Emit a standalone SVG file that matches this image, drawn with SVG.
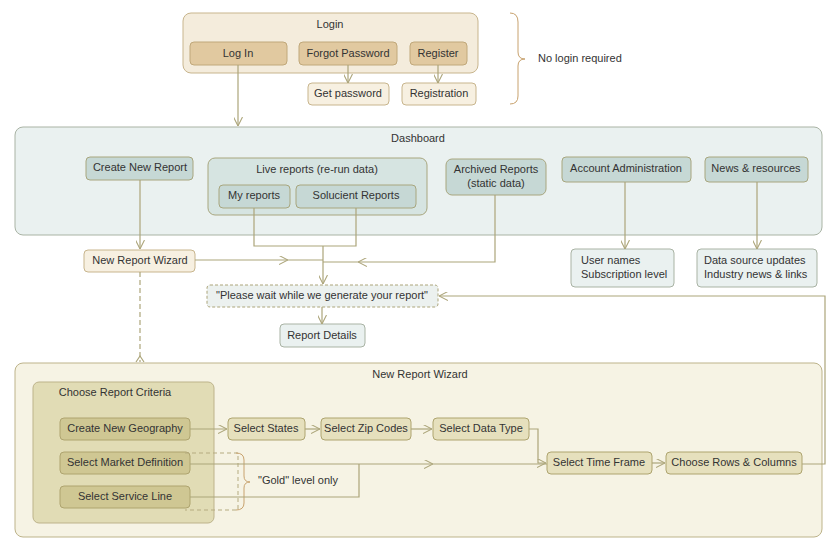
<svg xmlns="http://www.w3.org/2000/svg" width="837" height="552" viewBox="0 0 837 552">
<style>
text{font-family:"Liberation Sans",Arial,sans-serif;font-size:11px;fill:#333;text-anchor:middle;dominant-baseline:middle}
.lg{fill:#f4ecdc;stroke:#c8b58d}
.ln{fill:#e1c9a0;stroke:#c0a87a}
.lw{fill:#f7f0e1;stroke:#c8b58d}
.db{fill:#eaf1f0;stroke:#a9b3a4}
.dn{fill:#c6d8d5;stroke:#a8a67e}
.dg{fill:#d6e4e1;stroke:#a8a67e}
.wz{fill:#f6f3e4;stroke:#bdb38a}
.cr{fill:#e1dcb5;stroke:#bdb38a}
.cn{fill:#cfc793;stroke:#aea46f}
.wn{fill:#e6e0bd;stroke:#aea46f}
.c{fill:none;stroke:#aca57a;stroke-width:1.2}
</style>
<defs>
<marker id="a" viewBox="0 0 10 10" refX="10" refY="5" markerWidth="9" markerHeight="9" orient="auto" markerUnits="userSpaceOnUse"><path d="M0,0L10,5L0,10" fill="none" stroke="#aca57a" stroke-width="1.2"/></marker>
</defs>
<g id="login"><rect class="lg" x="183" y="13" width="295" height="60" rx="8"/><text x="330" y="25">Login</text></g>
<g id="login-in"><rect class="ln" x="190" y="42" width="97" height="23" rx="4"/><text x="238" y="54">Log In</text></g>
<g id="forgot"><rect class="ln" x="299" y="42" width="98" height="23" rx="4"/><text x="348" y="54">Forgot Password</text></g>
<g id="register"><rect class="ln" x="410" y="42" width="57" height="23" rx="4"/><text x="438" y="54">Register</text></g>
<g id="getpw"><rect class="lw" x="308" y="83" width="81" height="22" rx="4"/><text x="348" y="94">Get password</text></g>
<g id="registration"><rect class="lw" x="402" y="83" width="74" height="22" rx="4"/><text x="439" y="94">Registration</text></g>
<g id="nologin"><path d="M510,13Q518,13 518,22L518,52Q518,59 525,59Q518,59 518,66L518,96Q518,104 510,104" fill="none" stroke="#c8a26e"/><text x="538" y="59" style="text-anchor:start">No login required</text></g>

<g id="dashboard"><rect class="db" x="15" y="127" width="807" height="108" rx="8"/><text x="418" y="139">Dashboard</text></g>
<g id="create"><rect class="dn" x="86" y="157" width="107" height="23" rx="4"/><text x="140" y="168">Create New Report</text></g>
<g id="live"><rect class="dg" x="208" y="158" width="219" height="57" rx="7"/><text x="317" y="170">Live reports (re-run data)</text></g>
<g id="myreports"><rect class="dn" x="219" y="185" width="71" height="23" rx="4"/><text x="254" y="196">My reports</text></g>
<g id="solucient"><rect class="dn" x="296" y="185" width="120" height="23" rx="4"/><text x="356" y="196">Solucient Reports</text></g>
<g id="archived"><rect class="dn" x="446" y="159" width="100" height="36" rx="6"/><text x="496" y="170">Archived Reports</text><text x="496" y="184">(static data)</text></g>
<g id="account"><rect class="dn" x="562" y="157" width="129" height="25" rx="4"/><text x="626" y="169">Account Administration</text></g>
<g id="news"><rect class="dn" x="705" y="157" width="103" height="25" rx="4"/><text x="756" y="169">News &amp; resources</text></g>
<g id="wizardnode"><rect class="lw" x="84" y="250" width="111" height="22" rx="4"/><text x="140" y="261">New Report Wizard</text></g>
<g id="users"><rect class="db" x="571" y="249" width="103" height="38" rx="4"/><text x="581" y="261" style="text-anchor:start">User names</text><text x="581" y="275" style="text-anchor:start">Subscription level</text></g>
<g id="datasrc"><rect class="db" x="697" y="249" width="120" height="38" rx="4"/><text x="704" y="261" style="text-anchor:start">Data source updates</text><text x="704" y="275" style="text-anchor:start">Industry news &amp; links</text></g>
<g id="wait"><rect x="207" y="285" width="231" height="22" rx="3" fill="#ecf1ef" stroke="#aca57a" stroke-dasharray="3,2"/><text x="322" y="296">"Please wait while we generate your report"</text></g>
<g id="details"><rect class="db" x="280" y="324" width="85" height="23" rx="4"/><text x="322" y="336">Report Details</text></g>

<g id="wizard"><rect class="wz" x="15" y="363" width="807" height="174" rx="8"/><text x="420" y="375">New Report Wizard</text></g>
<g id="criteria"><rect class="cr" x="33" y="382" width="181" height="141" rx="6"/><text x="115" y="393">Choose Report Criteria</text></g>
<g id="geo"><rect class="cn" x="60" y="418" width="130" height="22" rx="4"/><text x="125" y="429">Create New Geography</text></g>
<g id="market"><rect class="cn" x="60" y="452" width="130" height="22" rx="4"/><text x="125" y="463">Select Market Definition</text></g>
<g id="service"><rect class="cn" x="60" y="486" width="130" height="22" rx="4"/><text x="125" y="497">Select Service Line</text></g>
<g id="states"><rect class="wn" x="228" y="418" width="77" height="22" rx="4"/><text x="266" y="429">Select States</text></g>
<g id="zip"><rect class="wn" x="321" y="418" width="90" height="22" rx="4"/><text x="366" y="429">Select Zip Codes</text></g>
<g id="dtype"><rect class="wn" x="433" y="418" width="96" height="22" rx="4"/><text x="481" y="429">Select Data Type</text></g>
<g id="time"><rect class="wn" x="547" y="452" width="105" height="22" rx="4"/><text x="599" y="463">Select Time Frame</text></g>
<g id="rows"><rect class="wn" x="666" y="452" width="136" height="22" rx="4"/><text x="734" y="463">Choose Rows &amp; Columns</text></g>
<g id="gold"><path d="M185,453H238V510H185" fill="none" stroke="#b5ab80" stroke-dasharray="4,3"/><path d="M236,453Q244,453 244,460L244,476Q244,482 250,482Q244,482 244,488L244,503Q244,510 236,510" fill="none" stroke="#c8a26e"/><text x="258" y="481" style="text-anchor:start">"Gold" level only</text></g>

<g id="connectors">
<path class="c" d="M348,65V83" marker-end="url(#a)"/>
<path class="c" d="M438,65V83" marker-end="url(#a)"/>
<path class="c" d="M238,65V126" marker-end="url(#a)"/>
<path class="c" d="M140,180V249" marker-end="url(#a)"/>
<path class="c" d="M625,182V249" marker-end="url(#a)"/>
<path class="c" d="M757,182V249" marker-end="url(#a)"/>
<path class="c" d="M254,208V246H356V208"/>
<path class="c" d="M323,246V284" marker-end="url(#a)"/>
<path class="c" d="M195,260H288" marker-end="url(#a)"/>
<path class="c" d="M288,260H323"/>
<path class="c" d="M495,195V262H358" marker-end="url(#a)"/>
<path class="c" d="M358,262H323"/>
<path class="c" d="M322,307V324" marker-end="url(#a)"/>
<path class="c" d="M802,464H825V296H439" marker-end="url(#a)"/>
<path class="c" d="M140,272V362" stroke-dasharray="5,3"/>
<path class="c" d="M136,362L140,356L144,362"/>
<path class="c" d="M190,429H227" marker-end="url(#a)"/>
<path class="c" d="M305,429H320" marker-end="url(#a)"/>
<path class="c" d="M411,429H432" marker-end="url(#a)"/>
<path class="c" d="M529,429H538V463H546" marker-end="url(#a)"/>
<path class="c" d="M652,463H665" marker-end="url(#a)"/>
<path class="c" d="M190,464H433" marker-end="url(#a)"/>
<path class="c" d="M433,464H547"/>
<path class="c" d="M190,497H359V464"/>
</g>
</svg>
